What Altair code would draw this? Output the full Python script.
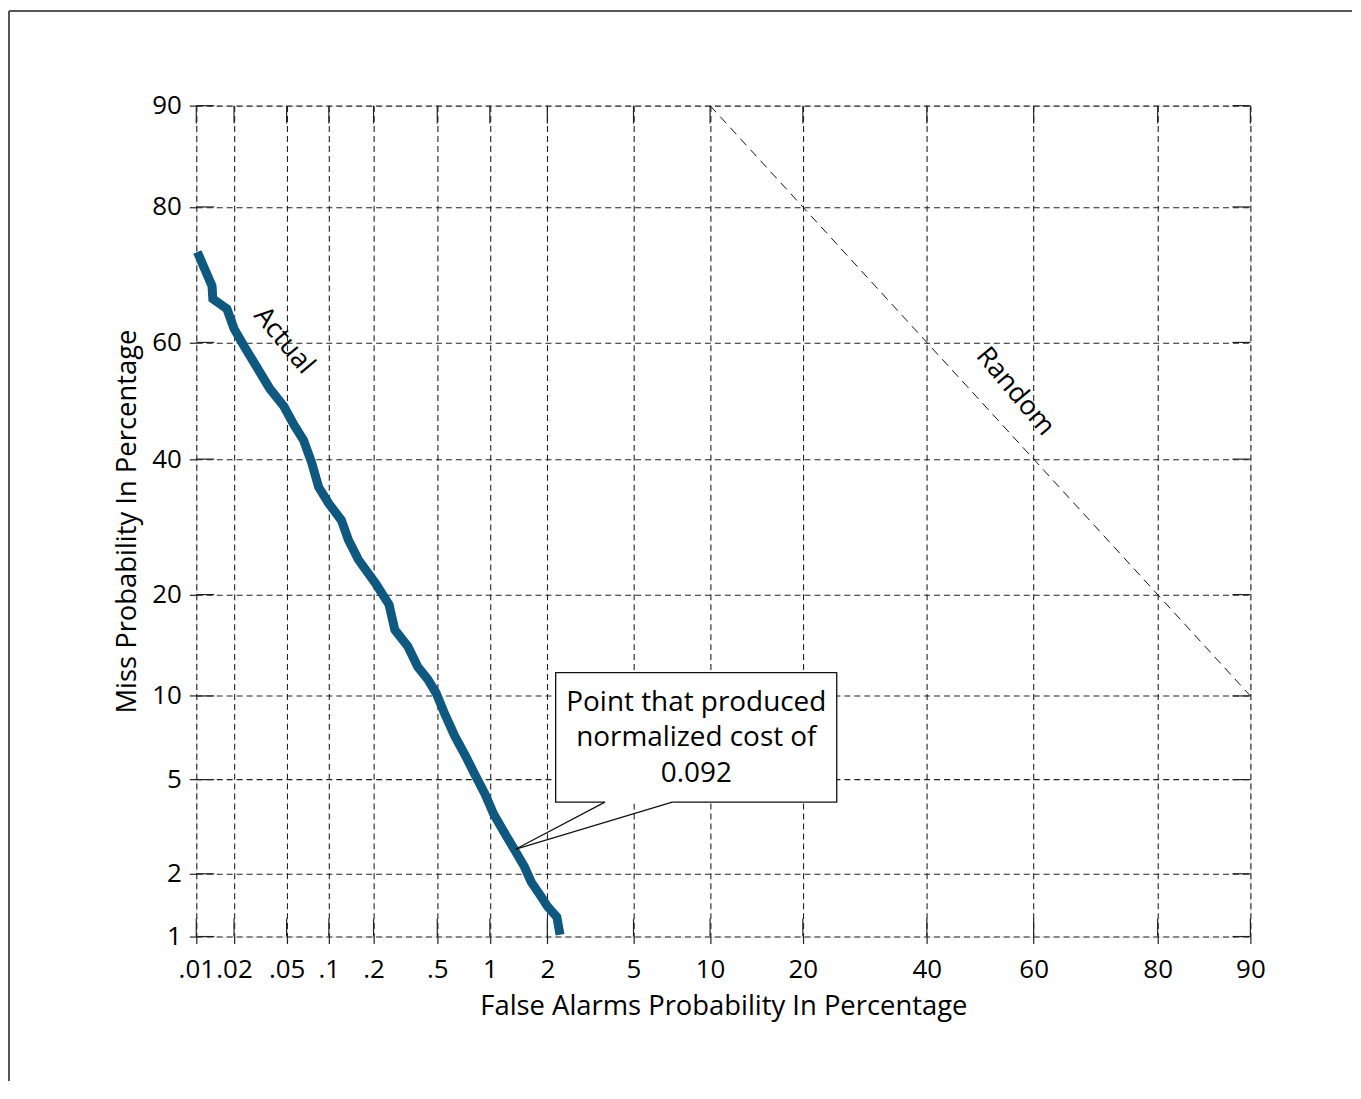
import altair as alt
import pandas as pd
from statistics import NormalDist

ND = NormalDist()


def probit(pct):
    return ND.inv_cdf(pct / 100.0)


# ---- data (percentages) ----
fa_pct = [0.0102, 0.0116, 0.0134, 0.0136, 0.0176, 0.0200, 0.0239, 0.0298, 0.0375,
          0.0478, 0.0563, 0.0663, 0.0756, 0.0848, 0.0998, 0.122, 0.136, 0.159,
          0.206, 0.252, 0.274, 0.331, 0.381, 0.440, 0.493, 0.549, 0.635, 0.733,
          0.824, 0.941, 1.05, 1.17, 1.35, 1.53, 1.66, 1.85, 2.01, 2.23, 2.31]
miss_pct = [74.1, 71.8, 69.1, 67.1, 65.5, 62.3, 59.4, 55.9, 52.1,
            49.0, 45.9, 43.2, 39.5, 35.4, 32.8, 30.2, 27.3, 24.5,
            21.4, 18.8, 16.0, 14.3, 12.4, 11.3, 10.2, 8.79, 7.25, 6.13,
            5.24, 4.38, 3.63, 3.14, 2.58, 2.15, 1.83, 1.58, 1.40, 1.25, 1.02]

random_fa = [10, 90]
random_miss = [90, 10]

x_ticks = [0.01, 0.02, 0.05, 0.1, 0.2, 0.5, 1, 2, 5, 10, 20, 40, 60, 80, 90]
x_tick_labels = [".01", ".02", ".05", ".1", ".2", ".5", "1", "2", "5",
                 "10", "20", "40", "60", "80", "90"]
y_ticks = [1, 2, 5, 10, 20, 40, 60, 80, 90]
y_tick_labels = ["1", "2", "5", "10", "20", "40", "60", "80", "90"]

x_domain = [0.01, 90]
y_domain = [1, 90]

# annotation (in percentages)
box_fa = [2.2, 24.8]
box_miss = [11.9, 4.07]
pointer_base_fa = [3.75, 7.2]
pointer_base_miss = 4.07
pointer_tip = (1.38, 2.58)
callout_text = "Point that produced\nnormalized cost of\n0.092"
callout_pos = (8.9, 9.5)
actual_pos = (0.0478, 60.3)
random_pos = (56.6, 51.6)

FONT = "Open Sans"
W, H = 1058, 834
CURVE = "#0f5880"


def label_expr(vals, labels):
    pos = [probit(v) for v in vals]
    expr = f"'{labels[-1]}'"
    for i in range(len(pos) - 2, -1, -1):
        thr = (pos[i] + pos[i + 1]) / 2
        expr = f"datum.value < {thr:.5f} ? '{labels[i]}' : ({expr})"
    return expr


xscale = alt.Scale(domain=[probit(v) for v in x_domain], nice=False, zero=False)
yscale = alt.Scale(domain=[probit(v) for v in y_domain], nice=False, zero=False)

xaxis = alt.Axis(values=[probit(v) for v in x_ticks], labelExpr=label_expr(x_ticks, x_tick_labels),
                 grid=True, gridDash=[6, 4], gridColor="#222", gridOpacity=1, gridWidth=1.1,
                 tickSize=7, tickColor="#222", tickWidth=1.2, domain=False,
                 labelFontSize=26, labelColor="black", labelFont=FONT, labelPadding=13,
                 labelOverlap=False, labelFlush=False,
                 title="False Alarms Probability In Percentage", titleFont=FONT,
                 titleFontSize=27.5, titleFontWeight="normal", titleColor="black", titlePadding=10)
yaxis = alt.Axis(values=[probit(v) for v in y_ticks], labelExpr=label_expr(y_ticks, y_tick_labels),
                 grid=True, gridDash=[6, 4], gridColor="#222", gridOpacity=1, gridWidth=1.1,
                 tickSize=7, tickColor="#222", tickWidth=1.2, domain=False,
                 labelFontSize=26, labelColor="black", labelFont=FONT, labelPadding=8,
                 labelOverlap=False, labelFlush=False,
                 title="Miss Probability In Percentage", titleFont=FONT,
                 titleFontSize=27.5, titleFontWeight="normal", titleColor="black", titlePadding=10)


def X(f="x"):
    return alt.X(f"{f}:Q", scale=xscale, axis=xaxis)


def Y(f="y"):
    return alt.Y(f"{f}:Q", scale=yscale, axis=yaxis)


curve_df = pd.DataFrame({"x": [probit(v) for v in fa_pct], "y": [probit(v) for v in miss_pct],
                         "i": list(range(len(fa_pct)))})
random_df = pd.DataFrame({"x": [probit(v) for v in random_fa], "y": [probit(v) for v in random_miss],
                          "i": [0, 1]})
xt_df = pd.DataFrame({"x": [probit(v) for v in x_ticks]})
yt_df = pd.DataFrame({"y": [probit(v) for v in y_ticks]})

curve = alt.Chart(curve_df).mark_line(color=CURVE, strokeWidth=9, strokeJoin="miter",
                                      strokeCap="butt").encode(x=X(), y=Y(), order="i:Q")
random_line = alt.Chart(random_df).mark_line(color="#111", strokeWidth=1, strokeDash=[9, 6]).encode(
    x=X(), y=Y(), order="i:Q")

tick_style = dict(color="#222", strokeWidth=1.2)
bt = alt.Chart(xt_df).mark_rule(**tick_style).encode(x=X(), y=alt.value(H - 18), y2=alt.value(H))
tt = alt.Chart(xt_df).mark_rule(**tick_style).encode(x=X(), y=alt.value(0), y2=alt.value(18))
lt = alt.Chart(yt_df).mark_rule(**tick_style).encode(y=Y(), x=alt.value(0), x2=alt.value(18))
rt = alt.Chart(yt_df).mark_rule(**tick_style).encode(y=Y(), x=alt.value(W - 18), x2=alt.value(W))

box_df = pd.DataFrame({"x": [probit(box_fa[0])], "x2": [probit(box_fa[1])],
                       "y": [probit(box_miss[0])], "y2": [probit(box_miss[1])]})
box = alt.Chart(box_df).mark_rect(fill="white", stroke="#111", strokeWidth=1.3).encode(
    x=X(), x2="x2:Q", y=Y(), y2="y2:Q")

gap_df = pd.DataFrame({"x": [probit(pointer_base_fa[0])], "x2": [probit(pointer_base_fa[1])],
                       "y": [probit(pointer_base_miss)]})
gap = alt.Chart(gap_df).mark_rule(color="white", strokeWidth=3).encode(x=X(), x2="x2:Q", y=Y())

ptr_df = pd.DataFrame({"x": [probit(v) for v in pointer_base_fa],
                       "y": [probit(pointer_base_miss)] * 2,
                       "x2": [probit(pointer_tip[0])] * 2,
                       "y2": [probit(pointer_tip[1])] * 2})
ptr = alt.Chart(ptr_df).mark_rule(color="#111", strokeWidth=1.2).encode(
    x=X(), y=Y(), x2="x2:Q", y2="y2:Q")

callout_df = pd.DataFrame({"x": [probit(callout_pos[0])], "y": [probit(callout_pos[1])],
                           "t": [callout_text]})
callout = alt.Chart(callout_df).mark_text(font=FONT, fontSize=28, lineBreak="\n", lineHeight=36,
                                          align="center", baseline="middle", color="black").encode(
    x=X(), y=Y(), text="t:N")

lab_df = pd.DataFrame({"x": [probit(actual_pos[0]), probit(random_pos[0])],
                       "y": [probit(actual_pos[1]), probit(random_pos[1])],
                       "t": ["Actual", "Random"]})
labels = alt.Chart(lab_df).mark_text(font=FONT, fontSize=27, angle=50, align="center",
                                     baseline="middle", color="black").encode(
    x=X(), y=Y(), text="t:N")

one = pd.DataFrame({"k": [0]})
frame_left = alt.Chart(one).mark_rule(color="#555", strokeWidth=2).encode(
    x=alt.value(-188), y=alt.value(-95), y2=alt.value(979))
frame_top = alt.Chart(one).mark_rule(color="#555", strokeWidth=2).encode(
    x=alt.value(-188), x2=alt.value(1160), y=alt.value(-95))

chart = alt.layer(random_line, curve, bt, tt, lt, rt, box, gap, ptr, callout, labels,
                  frame_left, frame_top).properties(
    width=W, height=H, padding=0, background="white"
).configure_view(stroke="#222", strokeWidth=1.5).configure(font=FONT)

chart.save("out.html", embed_options={"renderer": "svg", "actions": False})
